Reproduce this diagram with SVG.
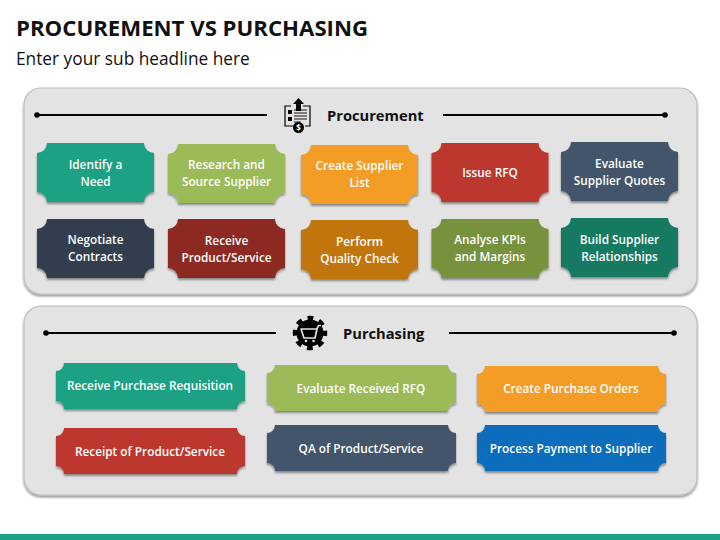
<svg xmlns="http://www.w3.org/2000/svg" xmlns:xlink="http://www.w3.org/1999/xlink" width="720" height="540" viewBox="0 0 720 540">
<style>
text{font-family:"Open Sans","Noto Sans","Liberation Sans",sans-serif}
.t{font-size:11.8px;font-weight:600;fill:#fff;text-anchor:middle}
.title{font-size:22.2px;font-weight:700;fill:#111}
.sub{font-size:17.3px;fill:#111}
.h{font-size:14.7px;font-weight:700;fill:#111}
.panel{fill:#e3e3e3;stroke:#bdbdbd;stroke-width:1.2;filter:url(#ps)}
.ln{stroke:#000;stroke-width:2;fill:none}
.s{filter:url(#ss)}
</style>
<defs>
<filter id="ps" x="-5%" y="-5%" width="110%" height="112%"><feDropShadow dx="0" dy="2" stdDeviation="1.2" flood-color="#000" flood-opacity=".4"/></filter>
<filter id="ss" x="-5%" y="-10%" width="110%" height="125%"><feDropShadow dx="0" dy="2" stdDeviation="1" flood-color="#000" flood-opacity=".4"/></filter>
<path id="a" d="M10 0H107A10 10 0 0 0 117 10V49A10 10 0 0 0 107 59H10A10 10 0 0 0 0 49V10A10 10 0 0 0 10 0Z"/>
<path id="b" d="M8 0H181A8 8 0 0 0 189 8V38A8 8 0 0 0 181 46H8A8 8 0 0 0 0 38V8A8 8 0 0 0 8 0Z"/>
</defs>
<rect width="720" height="540" fill="#fff"/>
<text class="title" x="16" y="36">PROCUREMENT VS PURCHASING</text>
<text class="sub" x="16" y="65">Enter your sub headline here</text>
<rect x="0" y="534" width="720" height="6" fill="#1fa283"/>
<g id="panel-procurement"><rect class="panel" x="24" y="88" width="673" height="206" rx="17"/></g>
<g id="panel-purchasing"><rect class="panel" x="24" y="306" width="673" height="189" rx="17"/></g>
<g id="connectors">
<path class="ln" d="M37 115H267M443 115H665M46 333H276M449 333H674"/>
<circle cx="37" cy="115" r="2.800"/><circle cx="665" cy="115" r="2.800"/><circle cx="46" cy="333" r="2.800"/><circle cx="674" cy="333" r="2.800"/>
</g>
<g id="header-procurement">
<g id="icon-doc">
<path d="M291 106H285V126H293M305 126H310V106H303" fill="none" stroke="#000" stroke-width="1.2"/>
<path d="M296 111V104H293L298.500 98L304 104H301V111Z" fill="#000"/>
<rect x="288" y="110" width="4" height="4"/><rect x="288" y="117" width="4" height="4"/>
<path d="M294 110H307M294 113H307M294 116H307M294 119H307M294 122H301" stroke="#000" stroke-width=".9"/>
<circle cx="298.500" cy="127.500" r="5.500"/>
<text x="298.500" y="130.500" font-size="8" font-weight="700" fill="#fff" text-anchor="middle">$</text>
</g>
<text class="h" x="327" y="120.500">Procurement</text>
</g>
<g id="header-purchasing">
<g id="icon-gear">
<circle cx="310" cy="333" r="13.500" fill="#000"/>
<circle cx="310" cy="333" r="15" fill="none" stroke="#000" stroke-width="4.500" stroke-dasharray="5.800 5.981" stroke-dashoffset="2.900"/>
<path d="M301 329H317L315 338H304ZM317 329L318.500 325.500H321" fill="none" stroke="#e3e3e3" stroke-width="1.700" stroke-linejoin="round"/>
<circle cx="306" cy="341" r="1.300" fill="#e3e3e3"/><circle cx="313.500" cy="341" r="1.300" fill="#e3e3e3"/>
</g>
<text class="h" x="343" y="338.500">Purchasing</text>
</g>
<g id="n1"><use class="s" xlink:href="#a" href="#a" x="37" y="143" fill="#1fa283"/><text class="t" x="95.500" y="169">Identify a</text><text class="t" x="95.500" y="186">Need</text></g>
<g id="n2"><use class="s" href="#a" x="168" y="144" fill="#9bbb59"/><text class="t" x="226.500" y="169">Research and</text><text class="t" x="226.500" y="186">Source Supplier</text></g>
<g id="n3"><use class="s" href="#a" x="301" y="145" fill="#f39c28"/><text class="t" x="359.500" y="170">Create Supplier</text><text class="t" x="359.500" y="187">List</text></g>
<g id="n4"><use class="s" href="#a" x="431.500" y="143" fill="#bc392e"/><text class="t" x="490" y="177">Issue RFQ</text></g>
<g id="n5"><use class="s" href="#a" x="561" y="142" fill="#43546b"/><text class="t" x="619.500" y="168">Evaluate</text><text class="t" x="619.500" y="185">Supplier Quotes</text></g>
<g id="n6"><use class="s" href="#a" x="37" y="219" fill="#333d4e"/><text class="t" x="95.500" y="244">Negotiate</text><text class="t" x="95.500" y="261">Contracts</text></g>
<g id="n7"><use class="s" href="#a" x="168" y="219" fill="#8c2b23"/><text class="t" x="226.500" y="245">Receive</text><text class="t" x="226.500" y="262">Product/Service</text></g>
<g id="n8"><use class="s" href="#a" x="301" y="220" fill="#c1750c"/><text class="t" x="359.500" y="246">Perform</text><text class="t" x="359.500" y="263">Quality Check</text></g>
<g id="n9"><use class="s" href="#a" x="431.500" y="219" fill="#76923c"/><text class="t" x="490" y="244">Analyse KPIs</text><text class="t" x="490" y="261">and Margins</text></g>
<g id="n10"><use class="s" href="#a" x="561" y="218" fill="#167a63"/><text class="t" x="619.500" y="244">Build Supplier</text><text class="t" x="619.500" y="261">Relationships</text></g>
<g id="m1"><use class="s" href="#b" x="56" y="363" fill="#1fa283"/><text class="t" x="150" y="390">Receive Purchase Requisition</text></g>
<g id="m2"><use class="s" href="#b" x="267" y="365" fill="#9bbb59"/><text class="t" x="361" y="393">Evaluate Received RFQ</text></g>
<g id="m3"><use class="s" href="#b" x="477" y="366" fill="#f39c28"/><text class="t" x="571" y="393">Create Purchase Orders</text></g>
<g id="m4"><use class="s" href="#b" x="56" y="428" fill="#bc392e"/><text class="t" x="150" y="456">Receipt of Product/Service</text></g>
<g id="m5"><use class="s" href="#b" x="267" y="425" fill="#43546b"/><text class="t" x="361" y="453">QA of Product/Service</text></g>
<g id="m6"><use class="s" href="#b" x="477" y="425" fill="#0b6dbd"/><text class="t" x="571" y="453">Process Payment to Supplier</text></g>
</svg>
